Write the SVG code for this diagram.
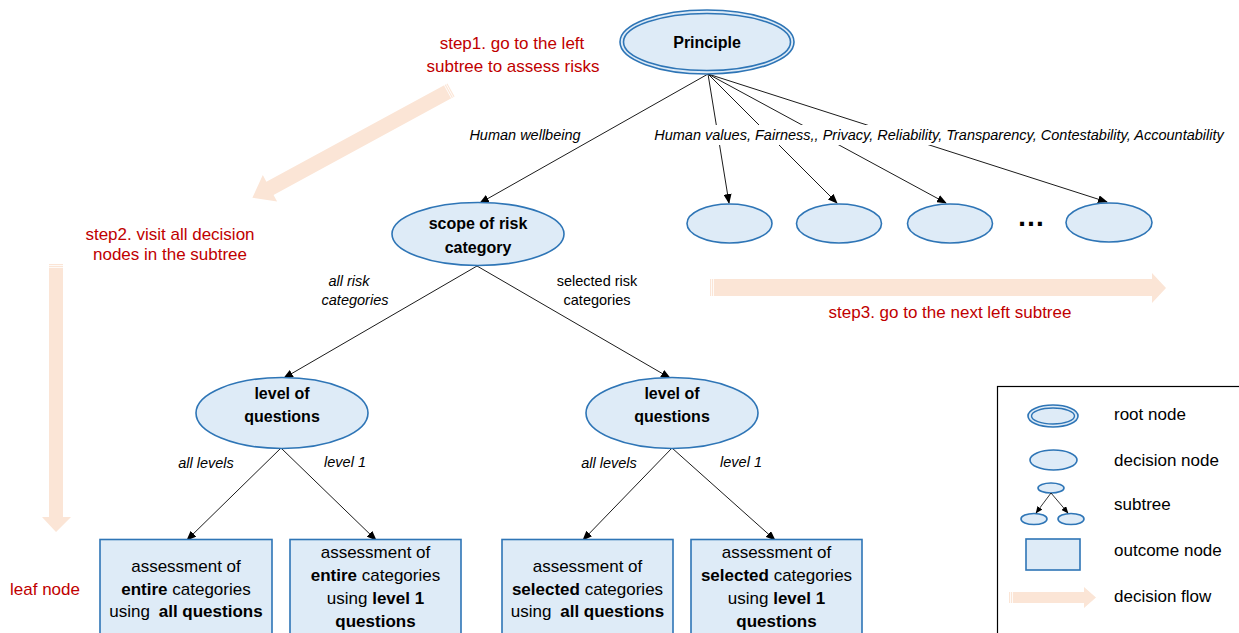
<svg xmlns="http://www.w3.org/2000/svg" width="1239" height="633" viewBox="0 0 1239 633">
<style>
.node{fill:#DEEBF7;stroke:#2E75B6;stroke-width:1.6}
.txt{font-family:"Liberation Sans",Arial,sans-serif;fill:#000}
.b{font-weight:bold;font-size:16px}
.lbl{font-style:italic;font-size:14.5px}
.up{font-size:14.5px}
.box{font-size:17px}
.red{font-family:"Liberation Sans",Arial,sans-serif;font-size:17px;fill:#C00000}
.flow{fill:#FBE5D6}
.stripe{stroke:#fff;stroke-width:0.8}
.edge{stroke:#000;stroke-width:0.9;fill:none;marker-end:url(#ah)}
.leg{font-family:"Liberation Sans",Arial,sans-serif;font-size:17px;fill:#000}
</style>
<defs>
<marker id="ah" markerWidth="10" markerHeight="8" refX="9" refY="4" orient="auto" markerUnits="userSpaceOnUse">
<path d="M0,0 L10,4 L0,8 Z" fill="#000"/>
</marker>
<marker id="ahs" markerWidth="7" markerHeight="6" refX="6.5" refY="3" orient="auto" markerUnits="userSpaceOnUse">
<path d="M0,0 L7,3 L0,6 Z" fill="#000"/>
</marker>
</defs>
<rect width="1239" height="633" fill="#fff"/>

<!-- decision flow arrows -->
<g id="flows">
<g transform="translate(451,90) rotate(151.5)">
<polygon class="flow" points="0,-7.5 206,-7.5 206,-15 226,0 206,15 206,7.5 0,7.5"/>
<line class="stripe" x1="1.5" y1="-7.5" x2="1.5" y2="7.5"/>
<line class="stripe" x1="3.5" y1="-7.5" x2="3.5" y2="7.5"/>
</g>
<polygon class="flow" points="49,264 63,264 63,517 71,517 56,532 42,517 49,517"/>
<line class="stripe" x1="49" y1="265.5" x2="63" y2="265.5"/>
<line class="stripe" x1="49" y1="267.5" x2="63" y2="267.5"/>
<polygon class="flow" points="710,279 1152,279 1152,273 1166,288 1152,303 1152,296 710,296"/>
<line class="stripe" x1="711.5" y1="279" x2="711.5" y2="296"/>
<line class="stripe" x1="713.5" y1="279" x2="713.5" y2="296"/>
</g>

<!-- red step texts -->
<g id="steps">
<text class="red" x="512" y="49" text-anchor="middle">step1. go to the left</text>
<text class="red" x="513" y="72" text-anchor="middle">subtree to assess risks</text>
<text class="red" x="170" y="240" text-anchor="middle">step2. visit all decision</text>
<text class="red" x="170" y="260" text-anchor="middle">nodes in the subtree</text>
<text class="red" x="950" y="318" text-anchor="middle">step3. go to the next left subtree</text>
<text class="red" x="10" y="595">leaf node</text>
</g>

<!-- connectors -->
<g id="connectors">
<line class="edge" x1="708" y1="74" x2="480" y2="203"/>
<line class="edge" x1="708" y1="74" x2="729" y2="203"/>
<line class="edge" x1="708" y1="74" x2="837" y2="203"/>
<line class="edge" x1="708" y1="74" x2="946" y2="203"/>
<line class="edge" x1="708" y1="74" x2="1107" y2="202"/>
<line class="edge" x1="477" y1="266" x2="284" y2="378"/>
<line class="edge" x1="477" y1="266" x2="670" y2="378"/>
<line class="edge" x1="281" y1="448" x2="187" y2="540"/>
<line class="edge" x1="281" y1="448" x2="376" y2="540"/>
<line class="edge" x1="672" y1="448" x2="583" y2="540"/>
<line class="edge" x1="672" y1="448" x2="775" y2="540"/>
</g>

<!-- edge labels -->
<g id="edge-labels">
<text class="txt lbl" x="525" y="140" text-anchor="middle">Human wellbeing</text>
<rect x="649" y="125" width="580" height="20" fill="#fff"/>
<text class="txt lbl" x="939" y="140" text-anchor="middle">Human values, Fairness,, Privacy, Reliability, Transparency, Contestability, Accountability</text>
<text class="txt lbl" x="349" y="286" text-anchor="middle">all risk</text>
<text class="txt lbl" x="355" y="305" text-anchor="middle">categories</text>
<text class="txt up" x="597" y="286" text-anchor="middle">selected risk</text>
<text class="txt up" x="597" y="305" text-anchor="middle">categories</text>
<text class="txt lbl" x="206" y="468" text-anchor="middle">all levels</text>
<text class="txt lbl" x="345" y="467" text-anchor="middle">level 1</text>
<text class="txt lbl" x="609" y="468" text-anchor="middle">all levels</text>
<text class="txt lbl" x="741" y="467" text-anchor="middle">level 1</text>
</g>

<!-- nodes -->
<g id="principle">
<ellipse class="node" cx="707" cy="42" rx="87" ry="32"/>
<ellipse cx="707" cy="42" rx="83.5" ry="28.5" fill="none" stroke="#2E75B6" stroke-width="1.6"/>
<text class="txt b" x="707" y="48" text-anchor="middle">Principle</text>
</g>
<g id="scope">
<ellipse class="node" cx="478" cy="234" rx="86" ry="31.5"/>
<text class="txt b" x="478" y="229" text-anchor="middle">scope of risk</text>
<text class="txt b" x="478" y="253" text-anchor="middle">category</text>
</g>
<g id="sub1"><ellipse class="node" cx="729.5" cy="223.5" rx="42.5" ry="19.5"/></g>
<g id="sub2"><ellipse class="node" cx="839" cy="223.5" rx="42.5" ry="19.5"/></g>
<g id="sub3"><ellipse class="node" cx="950" cy="223.5" rx="42.5" ry="19.5"/></g>
<g id="dots"><text class="txt" x="1031" y="226" text-anchor="middle" font-size="28" font-weight="bold">…</text></g>
<g id="sub4"><ellipse class="node" cx="1109" cy="222.5" rx="43" ry="19.5"/></g>
<g id="level-left">
<ellipse class="node" cx="282" cy="413" rx="86" ry="35.5"/>
<text class="txt b" x="282" y="399" text-anchor="middle">level of</text>
<text class="txt b" x="282" y="422" text-anchor="middle">questions</text>
</g>
<g id="level-right">
<ellipse class="node" cx="672" cy="413" rx="86" ry="35.5"/>
<text class="txt b" x="672" y="399" text-anchor="middle">level of</text>
<text class="txt b" x="672" y="422" text-anchor="middle">questions</text>
</g>
<g id="out1">
<rect class="node" x="100" y="539.5" width="172" height="110"/>
<text class="txt box" x="186" y="572" text-anchor="middle">assessment of</text>
<text class="txt box" x="186" y="595" text-anchor="middle"><tspan font-weight="bold">entire</tspan> categories</text>
<text class="txt box" x="186" y="617" text-anchor="middle">using <tspan dx="4" font-weight="bold">all questions</tspan></text>
</g>
<g id="out2">
<rect class="node" x="290" y="539.5" width="171" height="110"/>
<text class="txt box" x="375.5" y="558" text-anchor="middle">assessment of</text>
<text class="txt box" x="375.5" y="581" text-anchor="middle"><tspan font-weight="bold">entire</tspan> categories</text>
<text class="txt box" x="375.5" y="604" text-anchor="middle">using <tspan font-weight="bold">level 1</tspan></text>
<text class="txt box" x="375.5" y="627" text-anchor="middle" font-weight="bold">questions</text>
</g>
<g id="out3">
<rect class="node" x="502" y="539.5" width="171" height="110"/>
<text class="txt box" x="587.5" y="572" text-anchor="middle">assessment of</text>
<text class="txt box" x="587.5" y="595" text-anchor="middle"><tspan font-weight="bold">selected</tspan> categories</text>
<text class="txt box" x="587.5" y="617" text-anchor="middle">using <tspan dx="4" font-weight="bold">all questions</tspan></text>
</g>
<g id="out4">
<rect class="node" x="691" y="539.5" width="171" height="110"/>
<text class="txt box" x="776.5" y="558" text-anchor="middle">assessment of</text>
<text class="txt box" x="776.5" y="581" text-anchor="middle"><tspan font-weight="bold">selected</tspan> categories</text>
<text class="txt box" x="776.5" y="604" text-anchor="middle">using <tspan font-weight="bold">level 1</tspan></text>
<text class="txt box" x="776.5" y="627" text-anchor="middle" font-weight="bold">questions</text>
</g>

<!-- legend -->
<g id="legend">
<rect x="997.5" y="386.5" width="300" height="300" fill="#fff" stroke="#000" stroke-width="1.2"/>
<ellipse class="node" cx="1053" cy="416" rx="25" ry="11"/>
<ellipse cx="1053" cy="416" rx="21.5" ry="8" fill="none" stroke="#2E75B6" stroke-width="1.4"/>
<text class="leg" x="1114" y="420">root node</text>
<ellipse class="node" cx="1053.5" cy="460" rx="23.5" ry="10"/>
<text class="leg" x="1114" y="466">decision node</text>
<ellipse class="node" cx="1051" cy="488" rx="13" ry="5" stroke-width="1.3"/>
<ellipse class="node" cx="1034" cy="519" rx="13" ry="5.5" stroke-width="1.3"/>
<ellipse class="node" cx="1071" cy="519" rx="13" ry="5.5" stroke-width="1.3"/>
<line x1="1051" y1="493" x2="1036" y2="513" stroke="#000" stroke-width="0.8" marker-end="url(#ahs)"/>
<line x1="1051" y1="493" x2="1068" y2="513" stroke="#000" stroke-width="0.8" marker-end="url(#ahs)"/>
<text class="leg" x="1114" y="510">subtree</text>
<rect class="node" x="1026" y="539" width="54" height="31"/>
<text class="leg" x="1114" y="556">outcome node</text>
<polygon class="flow" points="1009,592 1084,592 1084,587 1096,597.5 1084,608 1084,603 1009,603"/>
<line class="stripe" x1="1010.5" y1="592" x2="1010.5" y2="603"/>
<line class="stripe" x1="1012.5" y1="592" x2="1012.5" y2="603"/>
<text class="leg" x="1114" y="602">decision flow</text>
</g>
</svg>
